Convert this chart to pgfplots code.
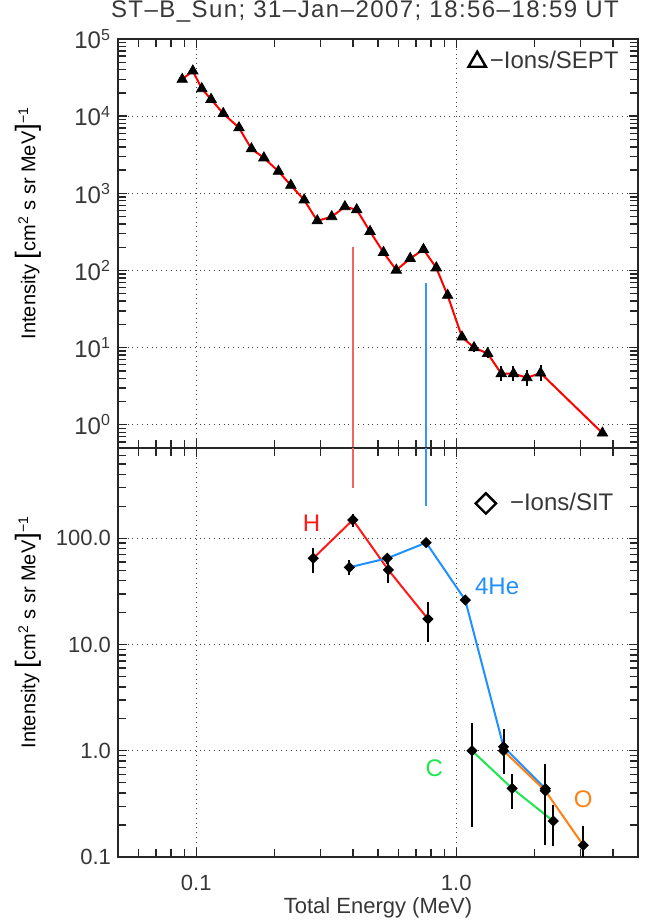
\documentclass[border=0pt]{standalone}
\usepackage{fontspec}
\setmainfont{Liberation Sans}
\newfontfamily\titlefont[LetterSpace=6]{Liberation Sans}
\usepackage{pgfplots}
\pgfplotsset{compat=1.18}

\definecolor{txt}{RGB}{55,55,55}
\definecolor{hred}{RGB}{255,25,25}
\definecolor{heblue}{RGB}{30,144,255}
\definecolor{cgreen}{RGB}{30,230,80}
\definecolor{oorange}{RGB}{255,128,20}
\definecolor{vred}{RGB}{240,100,100}
\definecolor{vblue}{RGB}{50,150,255}

% SEPT ions (top panel)
\pgfplotstableread{
x y ep em
0.0883 30000 0 0
0.097 38500 0 0
0.105 22700 0 0
0.114 16500 0 0
0.127 10800 0 0
0.146 7070 0 0
0.163 3770 0 0
0.182 2880 0 0
0.207 1930 0 0
0.231 1270 0 0
0.260 820 0 0
0.292 440 0 0
0.332 497 0 0
0.373 670 0 0
0.414 612 0 0
0.466 320 0 0
0.525 171 0 0
0.588 101 0 0
0.665 143 0 0
0.748 187 0 0
0.838 108 0 0
0.926 47.6 0 0
1.052 13.7 1.3 1.2
1.17 10.0 1.2 1.1
1.32 8.4 1.3 1.1
1.49 4.6 1.2 0.95
1.66 4.6 1.2 0.95
1.87 4.07 1.1 0.9
2.11 4.68 1.2 1.0
3.65 0.78 0 0
}\sept

% SIT ions (bottom panel)
\pgfplotstableread{
x y ep em
0.282 64.9 15.6 17.4
0.400 149 20 22
0.548 50.4 14.6 12.7
0.778 17.4 7.5 6.8
}\hyd
\pgfplotstableread{
x y ep em
0.388 53.3 9.2 8.2
0.543 64.9 7 8
0.766 91 5 5
1.083 26.2 2 2
1.52 1.09 0.51 0.49
2.20 0.44 0.31 0.24
}\helium
\pgfplotstableread{
x y ep em
1.15 1.0 0.81 0.81
1.64 0.443 0.16 0.16
2.36 0.218 0.09 0.09
}\carbon
\pgfplotstableread{
x y ep em
1.52 1.0 0.5 0.35
2.20 0.42 0.3 0.29
3.08 0.129 0.066 0.029
}\oxygen

\pgfplotsset{
  panel/.style={
    scale only axis, width=260pt, height=204.5pt,
    xmin=0.05, xmax=5,
    xtick={0.1,1},
    minor xtick={0.06,0.07,0.08,0.09,0.2,0.3,0.4,0.5,0.6,0.7,0.8,0.9,2,3,4},
    tick align=inside, major tick length=4.5pt, minor tick length=4pt,
    xtick pos=both, ytick pos=both,
    grid=major, major grid style={dotted, black!75, line width=0.6pt},
    axis line style={black!85, line width=0.9pt},
    every tick/.style={black!85, line width=0.7pt},
    tick label style={font=\fontsize{11}{11}\selectfont, text=txt},
    label style={font=\fontsize{11}{13}\selectfont, text=txt},
    every axis y label/.style={at={(axis description cs:-0.173,0.55)}, anchor=center, rotate=90},
    legend style={draw=none, fill=none, font=\fontsize{12}{12}\selectfont, text=txt, inner sep=1pt},
    legend cell align=left,
  },
  errs/.style={
    error bars/y dir=both, error bars/y explicit,
    error bars/error mark=none,
    error bars/error bar style={black, line width=1pt},
  },
  dmd/.style={mark=square*, mark size=1.5pt, mark options={black, fill=black, rotate=45}},
}

\newcommand{\ylab}{Intensity {\fontsize{14}{14}\selectfont[}cm\textsuperscript{2} s sr MeV{\fontsize{14}{14}\selectfont]}\textsuperscript{−1}}

\begin{document}
\begin{tikzpicture}
\useasboundingbox (-59pt,-236pt) rectangle (275.5pt,224pt);

\begin{loglogaxis}[panel, at={(0,0)}, anchor=south west,
  ymin=0.5, ymax=1e5,
  ytick={1,10,100,1000,10000,100000},
  yticklabels={10\textsuperscript{0},10\textsuperscript{1},10\textsuperscript{2},10\textsuperscript{3},10\textsuperscript{4},10\textsuperscript{5}},
  yticklabel style={font=\fontsize{12}{12}\selectfont},
  minor ytick={0.6,0.7,0.8,0.9,2,3,4,5,6,7,8,9,20,30,40,50,60,70,80,90,200,300,400,500,600,700,800,900,2000,3000,4000,5000,6000,7000,8000,9000,20000,30000,40000,50000,60000,70000,80000,90000},
  xticklabels={},
  ylabel={\ylab},
  title={\titlefont ST–B\_Sun; 31–Jan–2007; 18:56–18:59 UT},
  title style={at={(axis description cs:0.475,1)}, anchor=base, yshift=4.5pt, font=\fontsize{12}{12}\selectfont, text=txt},
  legend style={at={(axis description cs:0.975,0.985)}, anchor=north east},
  legend image code/.code={\draw[mark=triangle, mark size=5pt, mark options={black, line width=1.2pt}] plot coordinates {(0pt,0pt)};},
]
\addplot[vred, line width=0.8pt, forget plot] coordinates {(0.40,199) (0.40,0.5)};
\addplot[vblue, line width=0.8pt, forget plot] coordinates {(0.766,68.7) (0.766,0.5)};
\addplot[errs, only marks, mark=triangle*, mark size=3pt, mark options={black, fill=black}]
  table[x=x, y=y, y error plus=ep, y error minus=em] {\sept};
\addlegendentry{−Ions/SEPT}
\addplot[red, line width=1pt, forget plot] table[x=x, y=y] {\sept};
\end{loglogaxis}

\begin{loglogaxis}[panel, at={(0,0)}, anchor=north west,
  ymin=0.1, ymax=708,
  ytick={0.1,1,10,100}, yticklabels={0.1,1.0,10.0,100.0},
  minor ytick={0.2,0.3,0.4,0.5,0.6,0.7,0.8,0.9,2,3,4,5,6,7,8,9,20,30,40,50,60,70,80,90,200,300,400,500,600,700},
  xticklabels={0.1,1.0},
  xticklabel style={anchor=base, yshift=-16.5pt},
  xlabel={Total Energy (MeV)},
  xlabel style={at={(axis description cs:0.5,0)}, anchor=base, yshift=-28pt},
  ylabel={\ylab},
  legend style={at={(axis description cs:0.965,0.905)}, anchor=north east},
  legend image code/.code={\draw[mark=square, mark size=3.6pt, mark options={black, line width=1.2pt, rotate=45}] plot coordinates {(0pt,0pt)};},
]
\addplot[vred, line width=0.8pt, forget plot] coordinates {(0.40,708) (0.40,300)};
\addplot[vblue, line width=0.8pt, forget plot] coordinates {(0.766,708) (0.766,201)};
\addplot[errs, dmd, hred, line width=1pt, forget plot]
  table[x=x, y=y, y error plus=ep, y error minus=em] {\hyd};
\addplot[errs, dmd, heblue, line width=1pt, forget plot]
  table[x=x, y=y, y error plus=ep, y error minus=em] {\helium};
\addplot[errs, dmd, cgreen, line width=1pt, forget plot]
  table[x=x, y=y, y error plus=ep, y error minus=em] {\carbon};
\addplot[errs, dmd, oorange, line width=1pt]
  table[x=x, y=y, y error plus=ep, y error minus=em] {\oxygen};
\addlegendentry{\hspace{5pt}−Ions/SIT}
\node[text=hred, font=\fontsize{12}{12}\selectfont] at (axis cs:0.2777,138) {H};
\node[text=heblue, font=\fontsize{12}{12}\selectfont] at (axis cs:1.436,35) {4He};
\node[text=cgreen, font=\fontsize{12}{12}\selectfont] at (axis cs:0.823,0.683) {C};
\node[text=oorange, font=\fontsize{12}{12}\selectfont] at (axis cs:3.08,0.348) {O};
\end{loglogaxis}
\end{tikzpicture}
\end{document}
